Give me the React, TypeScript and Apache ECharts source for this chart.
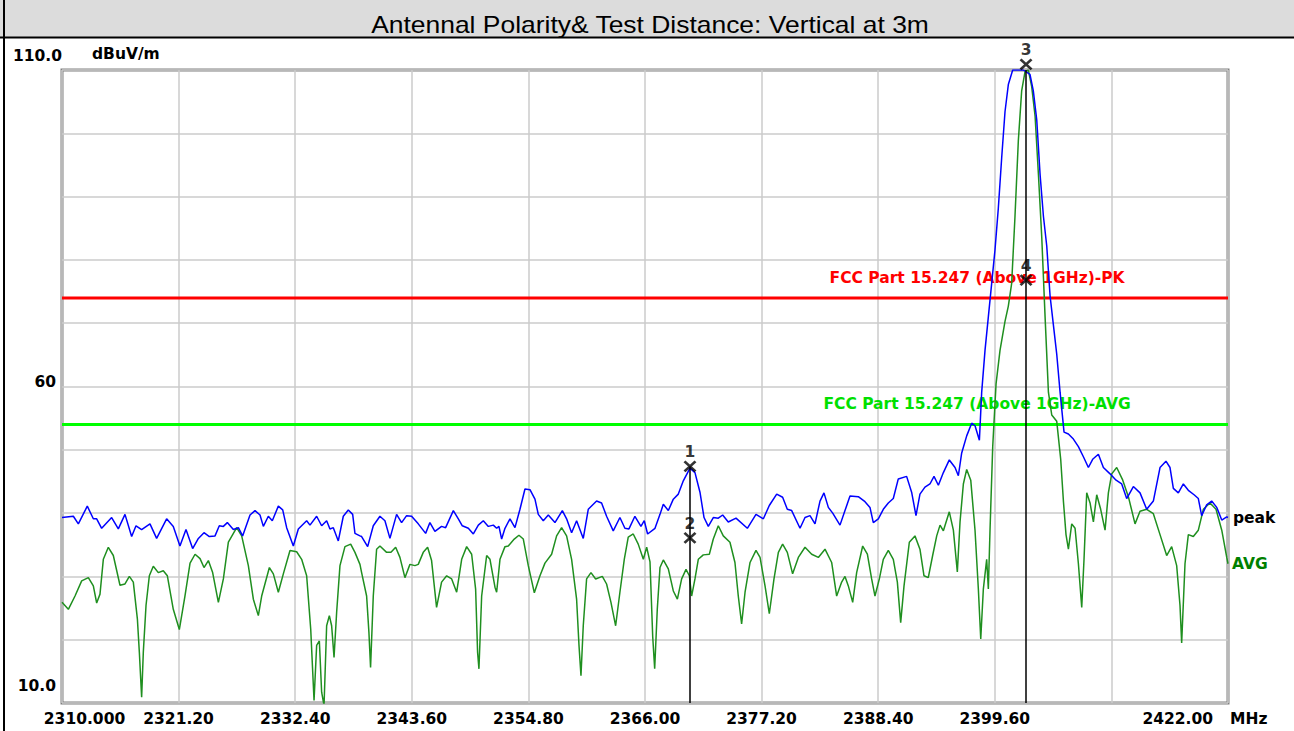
import React, { useEffect, useRef } from 'react';
import * as echarts from 'echarts';

// ---------- data ----------
const TITLE = 'Antennal Polarity& Test Distance: Vertical at 3m';
const F_START = 2310;
const F_END = 2422;
const F_STEP = 11.2;
const X_TICK_LABELS = ['2310.000', '2321.20', '2332.40', '2343.60', '2354.80', '2366.00', '2377.20', '2388.40', '2399.60', '', '2422.00'];
const X_UNIT = 'MHz';
const Y_MIN = 10;
const Y_MAX = 110;
const Y_STEP = 10;
const Y_TICK_VALUES = [10, 60, 110];
const Y_TICK_LABELS = ['10.0', '60', '110.0'];
const Y_UNIT = 'dBuV/m';

const LIMIT_PK = 74;
const LIMIT_AVG = 54;
const LIMIT_PK_LABEL = 'FCC Part 15.247 (Above 1GHz)-PK';
const LIMIT_AVG_LABEL = 'FCC Part 15.247 (Above 1GHz)-AVG';
const LIMIT_LABEL_FREQ = 2397.9;

const MARKER_NAMES = ['1', '2', '3', '4'];
const MARKER_FREQ = [2370.32, 2370.32, 2402.6, 2402.6];
const MARKER_VAL = [47.4, 36.1, 110.9, 76.8];
const MARKER_LINE_FROM = [0, 2]; // indices of markers that drop a line to the axis

const PEAK: [number, number][] = [
  [2310.00, 39.3], [2311.09, 39.5], [2311.57, 38.3], [2312.43, 41.1], [2313.01, 39.1], [2313.33, 39.1], [2313.81, 37.6], [2314.77, 39.3], [2315.41, 37.5], [2316.05, 39.8], [2316.69, 36.3], [2317.11, 38.0], [2317.65, 37.4], [2318.45, 38.3], [2319.09, 36.0], [2320.05, 39.1], [2320.69, 37.9], [2321.33, 34.8], [2321.91, 37.4], [2322.55, 34.4], [2323.10, 36.0], [2323.64, 36.9], [2324.15, 36.3], [2324.70, 36.4], [2325.11, 38.0], [2325.50, 37.9], [2325.88, 38.5], [2326.46, 37.4], [2326.94, 37.7], [2327.35, 36.4], [2328.06, 39.7], [2328.54, 40.4], [2329.02, 39.7], [2329.34, 37.9], [2329.82, 39.5], [2330.20, 38.8], [2330.78, 41.1], [2331.20, 40.5], [2331.58, 37.7], [2332.22, 34.8], [2332.70, 37.5], [2333.50, 38.8], [2333.82, 38.1], [2334.46, 39.5], [2334.94, 38.0], [2335.42, 38.8], [2335.74, 37.5], [2336.06, 37.7], [2336.54, 35.6], [2337.02, 39.5], [2337.50, 40.5], [2337.92, 39.8], [2338.14, 36.8], [2338.62, 36.4],
  [2338.78, 36.3], [2339.36, 34.7], [2339.90, 38.0], [2340.54, 39.5], [2341.02, 38.8], [2341.50, 36.0], [2342.14, 39.8], [2342.62, 38.5], [2343.10, 39.6], [2343.58, 39.5], [2344.22, 38.3], [2344.93, 36.8], [2345.34, 38.5], [2345.82, 37.1], [2346.46, 37.9], [2346.85, 37.7], [2347.59, 40.4], [2348.07, 39.1], [2348.45, 38.0], [2349.03, 37.6], [2349.51, 36.7], [2349.99, 38.1], [2350.47, 38.8], [2350.95, 37.9], [2351.43, 38.1], [2351.75, 37.6], [2351.97, 37.9], [2352.23, 35.9], [2352.55, 37.6], [2353.03, 39.1], [2353.51, 37.7], [2353.99, 40.6], [2354.47, 43.8], [2354.95, 43.7], [2355.43, 42.2], [2355.75, 39.8], [2356.23, 38.8], [2356.71, 39.7], [2357.35, 38.5], [2358.06, 40.4], [2358.47, 39.1], [2358.95, 36.9], [2359.43, 38.8], [2360.07, 36.0], [2360.55, 40.6], [2361.35, 41.9], [2361.83, 41.6], [2362.31, 39.5], [2362.95, 37.2], [2363.59, 39.3], [2364.07, 37.6], [2364.46, 37.5], [2365.03, 39.5], [2365.61, 37.9], [2365.93, 38.8], [2366.25, 36.7], [2366.96, 37.6],
  [2367.44, 39.8], [2367.76, 41.4], [2368.24, 40.4], [2368.72, 42.2], [2369.20, 43.0], [2369.68, 45.1], [2370.32, 47.1], [2370.80, 46.4], [2371.28, 43.3], [2371.67, 39.3], [2372.08, 37.9], [2372.56, 39.3], [2373.04, 39.2], [2373.46, 39.7], [2374.00, 38.6], [2374.74, 39.2], [2375.83, 37.6], [2376.66, 39.8], [2377.37, 39.1], [2377.94, 41.2], [2378.65, 43.0], [2379.22, 42.5], [2379.67, 40.6], [2380.09, 40.4], [2380.89, 37.6], [2381.37, 39.3], [2381.85, 39.6], [2382.33, 38.3], [2382.81, 41.9], [2383.19, 43.2], [2383.61, 40.9], [2384.03, 40.0], [2384.73, 38.1], [2385.21, 40.4], [2385.69, 42.7], [2386.49, 42.6], [2387.13, 41.8], [2387.61, 40.9], [2387.93, 38.5], [2388.41, 39.1], [2388.89, 40.6], [2389.37, 41.6], [2389.85, 42.3], [2390.33, 45.4], [2391.13, 45.8], [2391.61, 43.3], [2392.03, 39.6], [2392.41, 43.0], [2392.89, 44.1], [2393.37, 44.6], [2393.76, 45.8], [2394.18, 44.4], [2394.66, 46.4], [2395.23, 48.4],
  [2395.78, 47.2], [2396.10, 45.9], [2396.42, 49.5], [2396.90, 52.2], [2397.38, 54.2], [2397.70, 53.8], [2398.12, 51.5], [2398.34, 59.1], [2398.66, 65.7], [2398.98, 71.0], [2399.30, 76.3], [2399.62, 81.6], [2399.94, 88.2], [2400.26, 96.1], [2400.58, 103.4], [2400.90, 107.7], [2401.32, 110.0], [2402.34, 110.0], [2402.98, 109.3], [2403.30, 106.7], [2403.63, 102.1], [2403.95, 93.5], [2404.27, 86.9], [2404.59, 82.2], [2404.91, 74.3], [2405.23, 69.7], [2405.55, 65.1], [2405.87, 59.1], [2406.25, 52.8], [2406.67, 52.5], [2407.15, 51.7], [2407.63, 50.5], [2408.11, 48.9], [2408.59, 47.2], [2409.00, 48.5], [2409.55, 49.3], [2410.03, 47.2], [2410.67, 46.2], [2411.25, 45.2], [2411.79, 44.6], [2412.27, 42.3], [2412.91, 44.2], [2413.55, 43.2], [2414.19, 40.6], [2414.83, 41.9], [2415.47, 47.2], [2416.04, 48.2], [2416.43, 47.2], [2416.75, 43.9], [2417.23, 43.2], [2417.71, 44.6], [2418.19, 43.6], [2418.74, 42.9], [2419.15, 42.3], [2419.47, 39.6], [2419.95, 41.3], [2420.43, 41.9], [2420.92, 40.9], [2421.40, 38.9], [2421.88, 39.4], [2422.00, 39.3],
];

const AVG: [number, number][] = [
  [2310.00, 25.9], [2310.61, 24.8], [2311.25, 26.9], [2311.89, 29.3], [2312.53, 29.8], [2313.01, 28.5], [2313.33, 25.8], [2313.65, 27.2], [2313.97, 32.7], [2314.45, 34.6], [2314.93, 33.3], [2315.57, 28.6], [2316.05, 28.8], [2316.47, 30.0], [2316.85, 29.1], [2317.24, 23.3], [2317.43, 18.0], [2317.65, 10.9], [2317.81, 18.0], [2318.07, 25.4], [2318.39, 30.1], [2318.77, 31.6], [2319.25, 30.6], [2319.73, 30.9], [2320.12, 30.1], [2320.69, 24.8], [2321.27, 21.6], [2321.81, 26.9], [2322.30, 32.1], [2322.78, 33.5], [2323.26, 32.8], [2323.64, 31.4], [2324.06, 32.5], [2324.47, 30.6], [2325.02, 25.9], [2325.50, 29.6], [2325.98, 35.4], [2326.78, 37.7], [2327.26, 36.4], [2327.90, 31.7], [2328.38, 26.4], [2328.86, 23.8], [2329.18, 26.9], [2329.92, 31.4], [2330.30, 30.4], [2330.78, 27.5], [2331.26, 30.4], [2331.90, 34.1], [2332.54, 33.9], [2333.02, 32.7], [2333.50, 30.1], [2333.89, 21.7], [2334.21, 10.4], [2334.46, 19.1], [2334.72, 19.8], [2334.94, 11.7], [2335.17, 9.6], [2335.42, 22.2], [2335.68, 23.8], [2335.90, 22.2], [2336.13, 17.2], [2336.38, 24.3], [2336.70, 31.7], [2337.18, 34.7], [2337.73, 35.1], [2338.14, 33.8], [2338.62, 31.9],
  [2338.78, 30.6], [2339.26, 26.9], [2339.48, 21.2], [2339.64, 15.6], [2339.90, 26.9], [2340.22, 34.3], [2340.54, 34.8], [2341.18, 33.8], [2341.60, 33.8], [2342.05, 34.6], [2342.46, 33.0], [2342.94, 29.8], [2343.42, 31.9], [2343.90, 31.7], [2344.22, 31.9], [2344.70, 33.8], [2345.12, 34.6], [2345.50, 32.5], [2345.98, 25.1], [2346.46, 29.1], [2346.95, 30.1], [2347.43, 29.6], [2347.91, 27.5], [2348.39, 32.7], [2348.87, 34.7], [2349.35, 33.5], [2349.73, 28.0], [2349.92, 18.0], [2350.05, 15.4], [2350.31, 26.9], [2350.79, 33.3], [2351.11, 32.7], [2351.59, 28.3], [2351.75, 27.5], [2352.07, 32.7], [2352.55, 34.7], [2352.87, 34.8], [2353.44, 35.9], [2353.89, 36.5], [2354.31, 35.9], [2354.79, 31.7], [2355.37, 27.4], [2355.91, 30.1], [2356.39, 32.1], [2357.03, 33.5], [2357.51, 36.4], [2357.99, 37.7], [2358.47, 36.4], [2358.95, 32.7], [2359.43, 26.4], [2359.66, 19.1], [2359.85, 14.3], [2360.07, 22.2], [2360.39, 29.6], [2360.81, 30.6], [2361.26, 29.6], [2361.90, 30.0], [2362.31, 28.8], [2362.73, 25.9], [2363.18, 22.2], [2363.59, 27.5], [2364.01, 32.7], [2364.39, 36.2], [2364.87, 36.7], [2365.35, 35.1], [2365.84, 32.7], [2366.16, 34.6], [2366.48, 32.3], [2366.74, 20.5], [2366.93, 15.4],
  [2367.18, 24.8], [2367.44, 31.4], [2367.76, 32.6], [2368.24, 31.2], [2368.72, 27.7], [2369.11, 26.4], [2369.52, 29.6], [2369.94, 31.1], [2370.26, 30.1], [2370.48, 26.9], [2370.80, 29.6], [2371.12, 32.7], [2371.60, 33.4], [2372.18, 33.5], [2372.56, 35.9], [2373.04, 38.0], [2373.52, 36.4], [2374.16, 35.4], [2374.64, 32.2], [2374.96, 26.9], [2375.28, 22.5], [2375.61, 27.5], [2376.09, 32.2], [2376.66, 34.1], [2377.05, 33.0], [2377.53, 28.5], [2377.94, 24.1], [2378.39, 29.6], [2378.81, 33.8], [2379.22, 35.1], [2379.67, 33.8], [2380.18, 30.4], [2380.73, 33.0], [2381.37, 34.6], [2382.01, 33.5], [2382.65, 33.0], [2383.29, 34.3], [2383.93, 32.2], [2384.41, 26.9], [2384.89, 29.1], [2385.21, 30.0], [2385.53, 28.5], [2385.95, 25.9], [2386.33, 30.6], [2386.91, 34.8], [2387.36, 33.5], [2387.77, 29.6], [2388.09, 26.9], [2388.51, 29.6], [2388.89, 32.7], [2389.37, 34.1], [2389.85, 32.7], [2390.24, 29.1], [2390.56, 22.7], [2390.88, 28.5], [2391.39, 35.4], [2391.93, 36.4], [2392.41, 34.3], [2392.80, 30.1], [2393.21, 29.8], [2393.63, 33.3], [2394.02, 36.4], [2394.34, 38.1], [2394.66, 37.2], [2395.23, 40.2],
  [2395.62, 37.3], [2396.00, 30.7], [2396.26, 38.6], [2396.58, 44.6], [2396.90, 46.9], [2397.29, 45.2], [2397.70, 37.3], [2398.02, 28.0], [2398.25, 20.1], [2398.50, 28.0], [2398.82, 32.7], [2398.98, 28.0], [2399.14, 37.3], [2399.40, 50.5], [2399.72, 60.4], [2400.10, 65.7], [2400.58, 70.3], [2400.90, 72.7], [2401.22, 76.3], [2401.54, 86.9], [2401.86, 98.8], [2402.18, 106.7], [2402.50, 109.7], [2402.82, 110.0], [2403.14, 107.4], [2403.47, 102.7], [2403.79, 93.5], [2404.11, 83.6], [2404.43, 71.0], [2404.75, 59.1], [2405.07, 55.5], [2405.55, 54.5], [2405.93, 48.5], [2406.19, 41.9], [2406.44, 36.6], [2406.67, 34.3], [2406.99, 38.3], [2407.31, 37.6], [2407.63, 32.0], [2407.95, 25.1], [2408.17, 32.7], [2408.43, 43.2], [2408.75, 41.6], [2409.07, 38.6], [2409.39, 42.9], [2409.77, 40.6], [2410.19, 37.3], [2410.51, 43.2], [2410.83, 46.2], [2411.31, 47.2], [2411.89, 45.2], [2412.43, 42.6], [2413.07, 38.3], [2413.55, 40.3], [2414.19, 40.6], [2414.83, 39.9], [2415.47, 36.6], [2416.11, 33.3], [2416.59, 34.7], [2417.07, 31.7], [2417.39, 25.4], [2417.55, 19.5], [2417.87, 32.0], [2418.19, 36.6], [2418.67, 36.3], [2419.15, 37.3], [2419.63, 40.6], [2420.27, 41.6], [2420.85, 40.6], [2421.40, 37.3], [2421.88, 33.0], [2422.00, 32.0],
];

// ---------- styling ----------
const FONT = 'DejaVu Sans';
const FS = 15.5;
const bold = { fontFamily: FONT, fontWeight: 'bold' as const, fontSize: FS, color: '#000' };
const X_MARK = 'path://M0,0L10,10M10,0L0,10';

const toX = (f: number) => +(f - F_START).toFixed(4);

function buildOption() {
  const span = F_END - F_START;
  const limitSeries = (value: number, text: string, lineColor: string, textColor: string, name: string) => ({
    name,
    type: 'line',
    silent: true,
    symbol: 'circle',
    symbolSize: 0,
    showSymbol: true,
    lineStyle: { color: lineColor, width: 3 },
    itemStyle: { color: lineColor },
    z: 2,
    data: [
      { value: [0, value] },
      {
        value: [toX(LIMIT_LABEL_FREQ), value],
        label: { show: true, position: 'top', distance: 12, formatter: text, ...bold, color: textColor },
      },
      { value: [span, value] },
    ],
  });

  return {
    animation: false,
    backgroundColor: '#ffffff',
    grid: { left: 62, top: 70, width: 1166, height: 633, show: true, borderColor: '#808080', borderWidth: 3 },
    xAxis: {
      type: 'value',
      min: 0,
      max: span,
      interval: F_STEP,
      axisLine: { show: false },
      axisTick: { show: false },
      splitLine: { show: true, lineStyle: { color: '#cbcbcb', width: 1.5 } },
      axisLabel: {
        margin: 8,
        ...bold,
        alignMaxLabel: 'right',
        formatter: (v: number) => {
          const i = Math.round(v / F_STEP);
          const t = X_TICK_LABELS[i] ?? '';
          if (i === 0) return `{first|${t}}`;
          if (i === X_TICK_LABELS.length - 1) return `{last|${t}}`;
          return t;
        },
        rich: {
          first: { ...bold, padding: [0, 0, 0, 45] },
          last: { ...bold, padding: [0, 15, 0, 0] },
        },
      },
      name: X_UNIT,
      nameLocation: 'end',
      nameGap: 2,
      nameTextStyle: { ...bold, align: 'left', verticalAlign: 'top', padding: [8, 0, 0, 0] },
    },
    yAxis: {
      type: 'value',
      min: Y_MIN,
      max: Y_MAX,
      interval: Y_STEP,
      axisLine: { show: false },
      axisTick: { show: false },
      splitLine: { show: true, lineStyle: { color: '#cbcbcb', width: 1.5 } },
      axisLabel: {
        margin: 0,
        ...bold,
        formatter: (v: number) => {
          const i = Y_TICK_VALUES.indexOf(Math.round(v));
          if (i < 0) return '';
          const key = i === 0 ? 'b' : i === 1 ? 'm' : 't';
          return `{${key}|${Y_TICK_LABELS[i]}}`;
        },
        rich: {
          t: { ...bold, padding: [0, 0, 28, 0] },
          m: { ...bold, padding: [0, 6, 10, 0] },
          b: { ...bold, padding: [0, 6, 34, 0] },
        },
      },
      name: Y_UNIT,
      nameLocation: 'end',
      nameGap: 8,
      nameTextStyle: { ...bold, align: 'left', padding: [0, 0, 0, 30] },
    },
    graphic: [
      { type: 'rect', shape: { x: 0, y: 0, width: 1294, height: 37 }, style: { fill: '#dcdcdc' }, silent: true },
      { type: 'line', shape: { x1: 0, y1: 37.5, x2: 1294, y2: 37.5 }, style: { stroke: '#000', lineWidth: 2 }, silent: true },
      { type: 'line', shape: { x1: 4, y1: 0, x2: 4, y2: 731 }, style: { stroke: '#000', lineWidth: 2 }, silent: true },
      {
        type: 'text',
        x: 650,
        y: 25,
        scaleX: 1.15,
        silent: true,
        style: { text: TITLE, fontFamily: 'Liberation Sans', fontSize: 23, fill: '#000', textAlign: 'center', textVerticalAlign: 'middle' },
      },
    ],
    series: [
      limitSeries(LIMIT_PK, LIMIT_PK_LABEL, '#ff0000', '#ff0000', 'limitPK'),
      limitSeries(LIMIT_AVG, LIMIT_AVG_LABEL, '#00ff00', '#00e000', 'limitAVG'),
      {
        name: 'AVG',
        type: 'line',
        silent: true,
        symbol: 'none',
        lineStyle: { color: '#1f8f1f', width: 1.5 },
        itemStyle: { color: '#1f8f1f' },
        z: 3,
        data: AVG.map(([f, v]) => [toX(f), v]),
        endLabel: { show: true, formatter: 'AVG', distance: 4, ...bold, color: '#008000' },
      },
      {
        name: 'peak',
        type: 'line',
        silent: true,
        symbol: 'none',
        lineStyle: { color: '#0000ff', width: 1.5 },
        itemStyle: { color: '#0000ff' },
        z: 4,
        data: PEAK.map(([f, v]) => [toX(f), v]),
        endLabel: { show: true, formatter: 'peak', distance: 5, ...bold, color: '#000' },
      },
      {
        name: 'markers',
        type: 'scatter',
        silent: true,
        clip: false,
        z: 10,
        symbol: X_MARK,
        symbolSize: [11, 10],
        itemStyle: { color: 'rgba(0,0,0,0)', borderColor: '#000', borderWidth: 2.6 },
        label: { show: true, position: 'top', distance: 0, formatter: '{b}', ...bold },
        data: MARKER_NAMES.map((n, i) => ({ name: n, value: [toX(MARKER_FREQ[i]), MARKER_VAL[i]] })),
        markLine: {
          silent: true,
          symbol: ['none', 'none'],
          label: { show: false },
          lineStyle: { color: '#000', width: 1.5, type: 'solid' },
          data: MARKER_LINE_FROM.map((i) => [
            { coord: [toX(MARKER_FREQ[i]), Math.min(MARKER_VAL[i], Y_MAX)] },
            { coord: [toX(MARKER_FREQ[i]), Y_MIN] },
          ]),
        },
      },
    ],
  };
}

export default function App() {
  const ref = useRef<HTMLDivElement>(null);
  useEffect(() => {
    document.body.style.margin = '0';
    const chart = echarts.init(ref.current as HTMLDivElement, null, { renderer: 'svg' });
    chart.setOption(buildOption() as any);
    return () => chart.dispose();
  }, []);
  return <div ref={ref} style={{ width: 1294, height: 731 }} />;
}
